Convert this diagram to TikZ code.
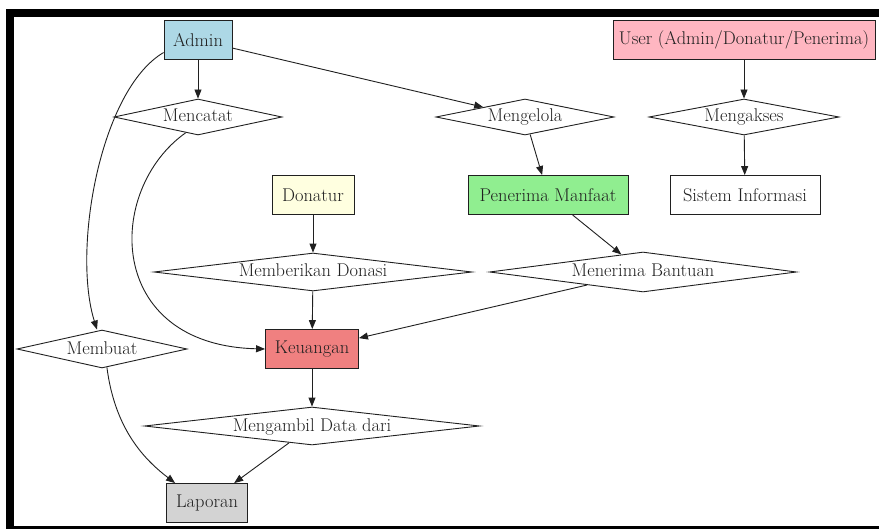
\documentclass[tikz,border=0pt]{standalone}
\usetikzlibrary{shapes.geometric,arrows.meta}
\definecolor{cAdmin}{HTML}{ADD8E6}
\definecolor{cUser}{HTML}{FFB6C1}
\definecolor{cDonatur}{HTML}{FFFFE0}
\definecolor{cPenerima}{HTML}{90EE90}
\definecolor{cKeuangan}{HTML}{F08080}
\definecolor{cLaporan}{HTML}{D3D3D3}
\definecolor{cLine}{HTML}{202020}
\newcommand\lblfont{\fontsize{18.5}{20}\selectfont}
\begin{document}
\begin{tikzpicture}[x=1bp,y=-1bp,
  box/.style={draw=cLine, line width=0.9bp, rectangle, inner sep=0pt, font=\lblfont, text=cLine, minimum height=39bp},
  dia/.style={draw=cLine, line width=0.9bp, shape=diamond, shape aspect=7, inner sep=0pt, text height=11bp, text depth=1bp, font=\lblfont, text=cLine},
  arr/.style={draw=cLine, line width=0.9bp, -{Triangle[length=9bp,width=7bp]}}]
\useasboundingbox (0,0) rectangle (879,529);
\fill[white] (0,0) rectangle (879,529);
% frame
\fill[black] (6,9) rectangle (879,17);
\fill[black] (6,9) rectangle (14,529);
\fill[black] (6,526) rectangle (879,529);
% nodes
\node[box, fill=cAdmin, minimum width=68bp] (admin) at (198,40) {Admin};
\node[box, fill=cUser, minimum width=262bp] (user) at (744,40) {User (Admin/Donatur/Penerima)};
\node[dia, minimum width=168bp, minimum height=36bp] (mencatat) at (198,117) {Mencatat};
\node[dia, minimum width=178bp, minimum height=36bp] (mengelola) at (525,117) {Mengelola};
\node[dia, minimum width=190bp, minimum height=36bp] (mengakses) at (744,117) {Mengakses};
\node[box, fill=cDonatur, minimum width=82bp] (donatur) at (313,195) {Donatur};
\node[box, fill=cPenerima, minimum width=160bp] (penerima) at (548,195) {Penerima Manfaat};
\node[box, fill=white, minimum width=150bp] (sistem) at (745,195) {Sistem Informasi};
\node[dia, minimum width=318bp, minimum height=38bp] (memberikan) at (313,272) {Memberikan Donasi};
\node[dia, minimum width=307bp, minimum height=40bp] (menerima) at (643,272) {Menerima Bantuan};
\node[dia, minimum width=170bp, minimum height=38bp] (membuat) at (102,349) {Membuat};
\node[box, fill=cKeuangan, minimum width=93bp] (keuangan) at (312,349) {Keuangan};
\node[dia, minimum width=335bp, minimum height=38bp] (mengambil) at (312,426) {Mengambil Data dari};
\node[box, fill=cLaporan, minimum width=81bp] (laporan) at (207,503) {Laporan};
% edges
\draw[arr] (admin) -- (mencatat);
\draw[arr] (admin) -- (mengelola);
\draw[arr] (admin.200) .. controls (100,90) and (72,250) .. ([xshift=-5bp]membuat.north);
\draw[arr] (mencatat.232) .. controls (105,190) and (105,345) .. (keuangan.west);
\draw[arr] (mengelola) -- (penerima);
\draw[arr] (user) -- (mengakses);
\draw[arr] (mengakses) -- (sistem);
\draw[arr] (donatur) -- (memberikan);
\draw[arr] (memberikan) -- (keuangan);
\draw[arr] (penerima) -- (menerima);
\draw[arr] (menerima) -- (keuangan);
\draw[arr] (keuangan) -- (mengambil);
\draw[arr] (mengambil) -- (laporan);
\draw[arr] (membuat.285) .. controls (115,430) and (145,460) .. ([xshift=9bp]laporan.north west);
\end{tikzpicture}
\end{document}
